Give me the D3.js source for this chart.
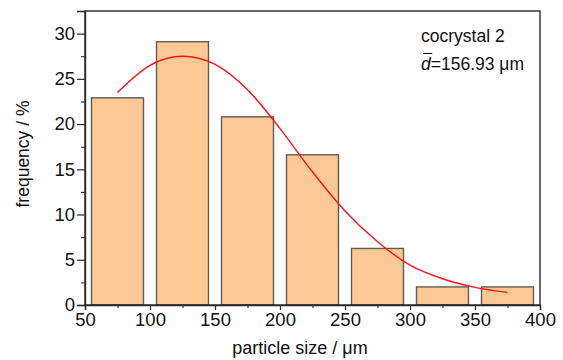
<!DOCTYPE html>
<html>
<head>
<meta charset="utf-8">
<script src="https://cdn.jsdelivr.net/npm/d3@7"></script>
<style>
  html, body { margin: 0; padding: 0; background: #fff; }
  svg { display: block; font-family: "Liberation Sans", Arial, sans-serif; }
</style>
</head>
<body>
<svg id="chart" width="563" height="360"></svg>
<script>
// ---- data ----
const binLow  = [55, 105, 155, 205, 255, 305, 355];
const binHigh = [95, 145, 195, 245, 295, 345, 395];
const frequency = [22.9, 29.1, 20.8, 16.6, 6.25, 2.0, 2.0];
const fitX = [75, 100, 125, 150, 175, 200, 225, 250, 275, 300, 325, 350, 375];
const fitY = [23.5, 26.5, 27.5, 26.6, 23.8, 19.5, 14.7, 10.4, 7.0, 4.4, 2.9, 1.95, 1.4];
const xTicks = [50, 100, 150, 200, 250, 300, 350, 400];
const xMinor = [75, 125, 175, 225, 275, 325, 375];
const yTicks = [0, 5, 10, 15, 20, 25, 30];
const yMinor = [2.5, 7.5, 12.5, 17.5, 22.5, 27.5, 32.5];
const labelName = "cocrystal 2";
const meanValue = "156.93";

// ---- layout ----
const svg = d3.select("#chart");
const L = 85, R = 540, T = 11, B = 305;
const x = d3.scaleLinear().domain([50, 400]).range([L, R]);
const y = d3.scaleLinear().domain([0, 32.5]).range([B, T]);
const axisColor = "#2a2a2a";

// bars
svg.append("g").selectAll("rect").data(frequency).join("rect")
  .attr("x", (d, i) => x(binLow[i]))
  .attr("width", (d, i) => x(binHigh[i]) - x(binLow[i]))
  .attr("y", d => y(d))
  .attr("height", d => y(0) - y(d))
  .attr("fill", "#fcc996")
  .attr("stroke", "#625c57")
  .attr("stroke-width", 1.4);

// fit curve
const line = d3.line().x((d, i) => x(fitX[i])).y(d => y(d)).curve(d3.curveMonotoneX);
svg.append("path").datum(fitY)
  .attr("d", line)
  .attr("fill", "none")
  .attr("stroke", "#ff1414")
  .attr("stroke-width", 1.4);

// frame
svg.append("rect")
  .attr("x", L).attr("y", T).attr("width", R - L).attr("height", B - T)
  .attr("fill", "none").attr("stroke", axisColor).attr("stroke-width", 1.4);

// y axis
const yAxis = d3.axisLeft(y).tickValues(yTicks).tickSize(8).tickPadding(2).tickFormat(d3.format("d"));
const gy = svg.append("g").attr("transform", `translate(${L},0)`).call(yAxis);
gy.select(".domain").attr("stroke", axisColor).attr("stroke-width", 1.4);
gy.selectAll(".tick line").attr("stroke", axisColor).attr("stroke-width", 1.2);
gy.selectAll(".tick text").attr("font-size", 18.5).attr("fill", "#111")
  .attr("font-family", "Liberation Sans, Arial, sans-serif");
const gyMinor = svg.append("g").attr("transform", `translate(${L},0)`)
  .call(d3.axisLeft(y).tickValues(yMinor).tickSize(4).tickFormat(""));
gyMinor.select(".domain").remove();
gyMinor.selectAll(".tick line").attr("stroke", axisColor).attr("stroke-width", 1.1);

// x axis
const xAxis = d3.axisBottom(x).tickValues(xTicks).tickSize(5).tickPadding(3).tickFormat(d3.format("d"));
const gx = svg.append("g").attr("transform", `translate(0,${B})`).call(xAxis);
gx.select(".domain").attr("stroke", axisColor).attr("stroke-width", 1.4);
gx.selectAll(".tick line").attr("stroke", axisColor).attr("stroke-width", 1.2);
gx.selectAll(".tick text").attr("font-size", 18.5).attr("fill", "#111")
  .attr("font-family", "Liberation Sans, Arial, sans-serif");
const gxMinor = svg.append("g").attr("transform", `translate(0,${B})`)
  .call(d3.axisBottom(x).tickValues(xMinor).tickSize(3).tickFormat(""));
gxMinor.select(".domain").remove();
gxMinor.selectAll(".tick line").attr("stroke", axisColor).attr("stroke-width", 1.1);

// axis titles
svg.append("text")
  .attr("x", 300).attr("y", 354)
  .attr("text-anchor", "middle")
  .attr("font-size", 18).attr("fill", "#111")
  .text("particle size / μm");

svg.append("text")
  .attr("transform", "translate(29,154) rotate(-90)")
  .attr("text-anchor", "middle")
  .attr("font-size", 17.5).attr("fill", "#111")
  .text("frequency / %");

// annotation
svg.append("text")
  .attr("x", 421).attr("y", 42)
  .attr("font-size", 17.5).attr("fill", "#111")
  .text(labelName);

const t2 = svg.append("text")
  .attr("x", 421).attr("y", 70)
  .attr("font-size", 17.5).attr("fill", "#111");
const dSpan = t2.append("tspan").attr("font-style", "italic").text("d");
t2.append("tspan").text("=" + meanValue + " μm");
const dLen = dSpan.node().getComputedTextLength();
svg.append("line")
  .attr("x1", 423).attr("x2", 421 + dLen + 1.5)
  .attr("y1", 53.5).attr("y2", 53.5)
  .attr("stroke", "#111").attr("stroke-width", 1.1);
</script>
</body>
</html>
